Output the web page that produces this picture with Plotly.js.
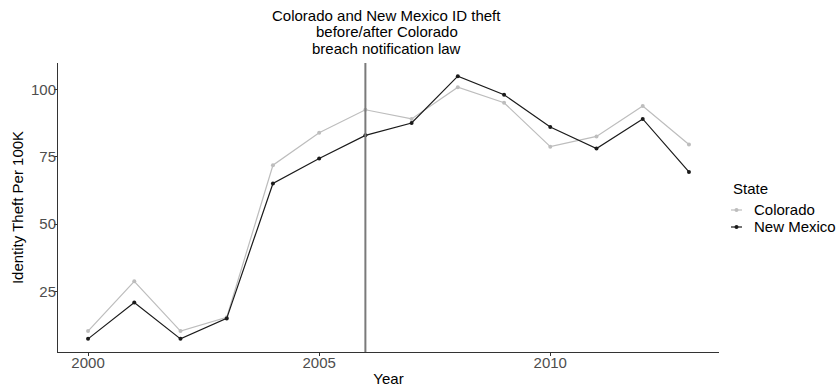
<!DOCTYPE html>
<html>
<head>
<meta charset="utf-8">
<script src="https://cdn.plot.ly/plotly-3.0.1.min.js"></script>
<style>
  html, body { margin: 0; padding: 0; background: #ffffff; }
  #chart { width: 839px; height: 387px; }
</style>
</head>
<body>
<div id="chart"></div>
<script>
// Identity theft reports per 100K residents, by year
const years = [2000, 2001, 2002, 2003, 2004, 2005, 2006, 2007, 2008, 2009, 2010, 2011, 2012, 2013];
const colorado = [10.3, 28.8, 10.3, 15.4, 71.9, 84.0, 92.5, 89.1, 100.9, 95.1, 78.8, 82.6, 93.9, 79.6];
const newMexico = [7.4, 20.9, 7.4, 15.0, 65.1, 74.4, 83.0, 87.6, 105.0, 98.1, 86.1, 78.1, 89.1, 69.4];
const seriesNames = ["Colorado", "New Mexico"];
const seriesColors = ["#bdbdbd", "#1a1a1a"];
const lawYear = 2006;
const xTicks = [2000, 2005, 2010];
const yTicks = [25, 50, 75, 100];
const titleLines = ["Colorado and New Mexico ID theft", "before/after Colorado", "breach notification law"];
const legendTitle = "State";

const W = 839, H = 387;
const M = { l: 58, r: 120, t: 63, b: 35 };
const plotW = W - M.l - M.r, plotH = H - M.t - M.b;
const px = x => (x - M.l) / plotW;          // pixel -> paper x
const py = y => (H - M.b - y) / plotH;      // pixel -> paper y

// ggplot-style 5% range expansion
function expand(vals) {
  const lo = Math.min(...vals), hi = Math.max(...vals), d = (hi - lo) * 0.05;
  return [lo - d, hi + d];
}
const xRange = expand(years);
const yRange = expand(colorado.concat(newMexico));

const FONT = "Liberation Sans, Arial, Helvetica, sans-serif";
const seriesValues = [colorado, newMexico];

const traces = seriesNames.map((name, i) => ({
  x: years,
  y: seriesValues[i],
  name: name,
  type: "scatter",
  mode: "lines+markers",
  line: { color: seriesColors[i], width: 1.2 },
  marker: { color: seriesColors[i], size: 4 },
  showlegend: false,
  hoverinfo: "x+y+name"
}));

const annotations = [];
const titleRows = [16, 32, 48];
titleLines.forEach((t, i) => annotations.push({
  text: t, xref: "paper", yref: "paper", x: px(386.5), y: py(titleRows[i]),
  xanchor: "center", yanchor: "middle", showarrow: false,
  font: { family: FONT, size: 15, color: "#000000" }
}));

// legend built by hand: short key segments with a dot, text to the right
annotations.push({
  text: legendTitle, xref: "paper", yref: "paper", x: px(731), y: py(188),
  xanchor: "left", yanchor: "middle", showarrow: false,
  font: { family: FONT, size: 15, color: "#000000" }
});
const legendRows = [209, 226];
const shapes = [{
  type: "line", xref: "x", yref: "paper", x0: lawYear, x1: lawYear, y0: 0, y1: 1,
  line: { color: "#7a7a7a", width: 2 }
}];
seriesNames.forEach((name, i) => {
  annotations.push({
    text: name, xref: "paper", yref: "paper", x: px(753), y: py(legendRows[i]),
    xanchor: "left", yanchor: "middle", showarrow: false, borderpad: 0,
    font: { family: FONT, size: 15, color: "#000000" }
  });
  shapes.push({
    type: "line", xref: "paper", yref: "paper",
    x0: px(731), x1: px(742), y0: py(legendRows[i] + 1), y1: py(legendRows[i] + 1),
    line: { color: seriesColors[i], width: 1.2 }
  });
  shapes.push({
    type: "circle", xref: "paper", yref: "paper",
    xsizemode: "pixel", ysizemode: "pixel",
    xanchor: px(736.5), yanchor: py(legendRows[i] + 1),
    x0: -2, x1: 2, y0: -2, y1: 2,
    fillcolor: seriesColors[i], line: { width: 0 }
  });
});

const axisCommon = {
  showgrid: false, zeroline: false,
  showline: true, linecolor: "#333333", linewidth: 1,
  ticks: "outside", ticklen: 3, tickwidth: 1, tickcolor: "#333333",
  tickfont: { family: FONT, size: 15, color: "#4d4d4d" },
  fixedrange: true
};

const layout = {
  width: W, height: H,
  margin: M,
  paper_bgcolor: "#ffffff", plot_bgcolor: "#ffffff",
  font: { family: FONT },
  showlegend: false,
  xaxis: Object.assign({}, axisCommon, {
    range: xRange, tickmode: "array", tickvals: xTicks, ticktext: xTicks.map(String),
    ticklabelstandoff: -6,
    title: { text: "Year", standoff: 9, font: { family: FONT, size: 15, color: "#000000" } }
  }),
  yaxis: Object.assign({}, axisCommon, {
    range: yRange, tickmode: "array", tickvals: yTicks, ticktext: yTicks.map(String),
    ticklabelstandoff: -5,
    title: { text: "Identity Theft Per 100K", standoff: 3, font: { family: FONT, size: 15, color: "#000000" } }
  }),
  annotations: annotations,
  shapes: shapes
};

Plotly.newPlot("chart", traces, layout, { displayModeBar: false, staticPlot: true });
</script>
</body>
</html>
